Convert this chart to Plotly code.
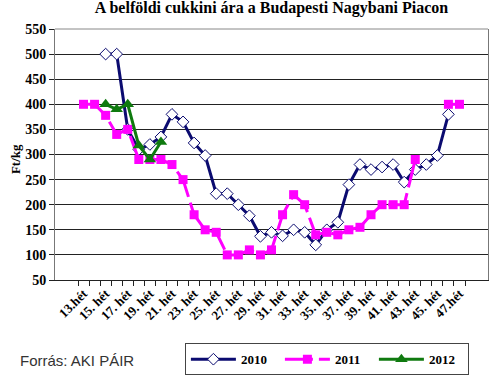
import plotly.graph_objects as go

weeks = ["13.hét"] + [f"{w}. hét" for w in range(14, 47)] + ["47.hét"]

v2010 = [None, None, 500, 500, 350, 310, 320, 335, 380, 365, 323, 298, 222, 222, 200, 178,
         137, 145, 138, 150, 145, 120, 150, 165, 240, 280, 270, 275, 280, 245, 270, 280, 298, 380, None]
v2011 = [400, 400, 378, 340, 350, 290, 290, 290, 280, 250, 180, 150, 145, 100, 100, 110,
         100, 110, 180, 220, 200, 140, 145, 140, 150, 155, 180, 200, 200, 200, 290, None, None, 400, 400]
v2012 = [None, None, 400, 390, 400, 318, 290, 325] + [None] * 27

tick_text = [w if i % 2 == 0 else "" for i, w in enumerate(weeks)]

serif = "Liberation Serif"
fig = go.Figure()
fig.add_trace(go.Scatter(x=weeks, y=v2010, name="2010", mode="lines+markers",
                         line=dict(color="#0b0b70", width=3),
                         marker=dict(symbol="diamond", size=9, color="white",
                                     line=dict(color="#0b0b70", width=1))))
fig.add_trace(go.Scatter(x=weeks, y=v2011, name="2011", mode="lines+markers",
                         line=dict(color="#ff00ff", width=3, dash="28px,6px"),
                         marker=dict(symbol="square", size=9, color="#ff00ff")))
fig.add_trace(go.Scatter(x=weeks, y=v2012, name="2012", mode="lines+markers",
                         line=dict(color="#0f7a0f", width=3),
                         marker=dict(symbol="triangle-up", size=11, color="#0f7a0f")))

fig.update_layout(
    width=500, height=375,
    margin=dict(l=55, r=12, t=29, b=95, autoexpand=False),
    paper_bgcolor="white", plot_bgcolor="white",
    title=dict(text="A belföldi cukkini ára a Budapesti Nagybani Piacon",
               x=0.5, xref="paper", y=0.995, yanchor="top",
               font=dict(family=serif, size=16, color="black", weight="bold")),
    showlegend=True,
    legend=dict(orientation="h", x=0.30, xanchor="left", y=-0.252, yanchor="top",
                bordercolor="#444", borderwidth=1, itemwidth=45,
                font=dict(family=serif, size=13, color="black", weight="bold"),
                entrywidth=34, entrywidthmode="pixels", tracegroupgap=0),
    font=dict(family=serif, color="black"),
)
fig.update_xaxes(type="category", tickmode="array", tickvals=weeks, ticktext=tick_text,
                 tickangle=-45, tickson="boundaries", ticks="outside", ticklen=5,
                 tickcolor="#222", showline=True, linecolor="#222", linewidth=1,
                 showgrid=False, automargin=False,
                 tickfont=dict(family=serif, size=13, color="black", weight="bold"))
fig.update_yaxes(range=[50, 550], dtick=50, tick0=0, ticks="outside", ticklen=5,
                 tickcolor="#222", showline=True, linecolor="#777", linewidth=1,
                 mirror=True, showgrid=True, gridcolor="#222", gridwidth=1, zeroline=False,
                 automargin=False,
                 tickfont=dict(family=serif, size=14, color="black", weight="bold"))
fig.add_shape(type="line", xref="paper", yref="paper", x0=0, x1=1, y0=1, y1=1,
              line=dict(color="#888", width=1), layer="above")
fig.add_annotation(text="Ft/kg", xref="paper", yref="paper", x=-0.113, y=0.48,
                   textangle=-90, showarrow=False,
                   font=dict(family=serif, size=13, color="black", weight="bold"))
fig.add_annotation(text="Forrás: AKI PÁIR", xref="paper", yref="paper", x=-0.0855, y=-0.322,
                   xanchor="left", yanchor="middle", showarrow=False,
                   font=dict(family="Liberation Sans", size=15, color="#333"))
fig.write_html("out.html", config={"displayModeBar": False},
               post_script="document.body.style.margin='0';")
